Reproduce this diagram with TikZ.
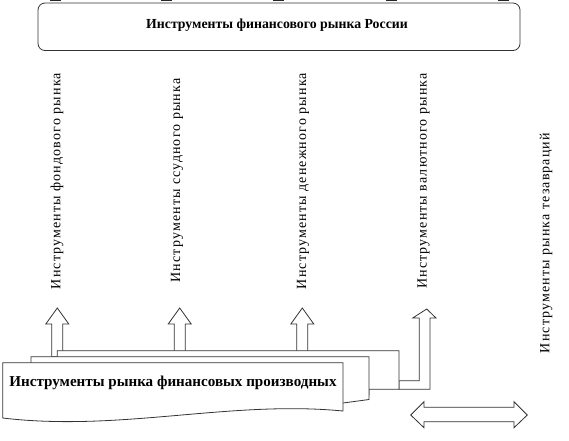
\documentclass[tikz,border=0pt]{standalone}
\usepackage{fontspec}
\setmainfont{Liberation Serif}
\newfontfamily\spacedf[LetterSpace=8]{Liberation Serif}
\begin{document}
\begin{tikzpicture}[x=1pt,y=-1pt,
  ln/.style={draw=black!80,line width=0.8pt},
  vtext/.style={rotate=90,anchor=center,inner sep=0pt,font=\spacedf\fontsize{14}{16}\selectfont},
  tick/.style={draw=black!85,line width=1.4pt}]
\useasboundingbox (0,0) rectangle (569,440);
% top ticks
\foreach \x in {50,161,273,386,498} \draw[tick] (\x,0.7) -- ++(11,0);
% top box
\draw[ln,rounded corners=7pt] (38,3) rectangle (520,50.5);
\node[inner sep=0pt,font=\bfseries\fontsize{13.8}{15}\selectfont] (title) at (277,25) {Инструменты финансового рынка России};
% vertical texts
\node[vtext] (t1) at (57,181) {Инструменты фондового рынка};
\node[vtext] (t2) at (177,180.5) {Инструменты ссудного рынка};
\node[vtext] (t3) at (303,181) {Инструменты денежного рынка};
\node[vtext] (t4) at (423.5,181) {Инструменты валютного рынка};
\node[vtext] (t5) at (546,243) {Инструменты рынка тезавраций};
% up arrows
\foreach \c in {57.3,179.7,302.3}{
  \draw[ln,fill=white] (\c,308) -- (\c+11.5,324) -- (\c+5.5,324) -- (\c+5.5,356.7)
    -- (\c-5.5,356.7) -- (\c-5.5,324) -- (\c-11.5,324) -- cycle;
}
% elbow arrow
\draw[ln,fill=white] (426.7,309) -- (436,318) -- (430,318) -- (430,389.3) -- (399,389.3)
  -- (399,380.7) -- (419.3,380.7) -- (419.3,318) -- (412.7,318) -- cycle;
% double arrow
\draw[ln,fill=white] (410.7,415) -- (424,401.7) -- (424,407.3) -- (514,407.3) -- (514,401.7)
  -- (527.3,415) -- (514,427.7) -- (514,421.7) -- (424,421.7) -- (424,427.7) -- cycle;
% stacked documents
\draw[ln,fill=white] (57.3,362) -- (57.3,350.7) -- (399,350.7) -- (399,389.3) -- (369,389.3) -- (369,395) -- cycle;
\draw[ln,fill=white] (31,365) -- (31,356.7) -- (369,356.7) -- (369,399.5) -- (343,403) -- (300,406) -- cycle;
\draw[ln,fill=white] (2.7,362.7) -- (343,362.7) -- (343,411)
  .. controls (230,400) and (120,432) .. (2.7,418) -- cycle;
\node[inner sep=0pt,font=\bfseries\fontsize{15.1}{17}\selectfont] (deriv) at (173,383) {Инструменты рынка финансовых производных};
\end{tikzpicture}
\end{document}
